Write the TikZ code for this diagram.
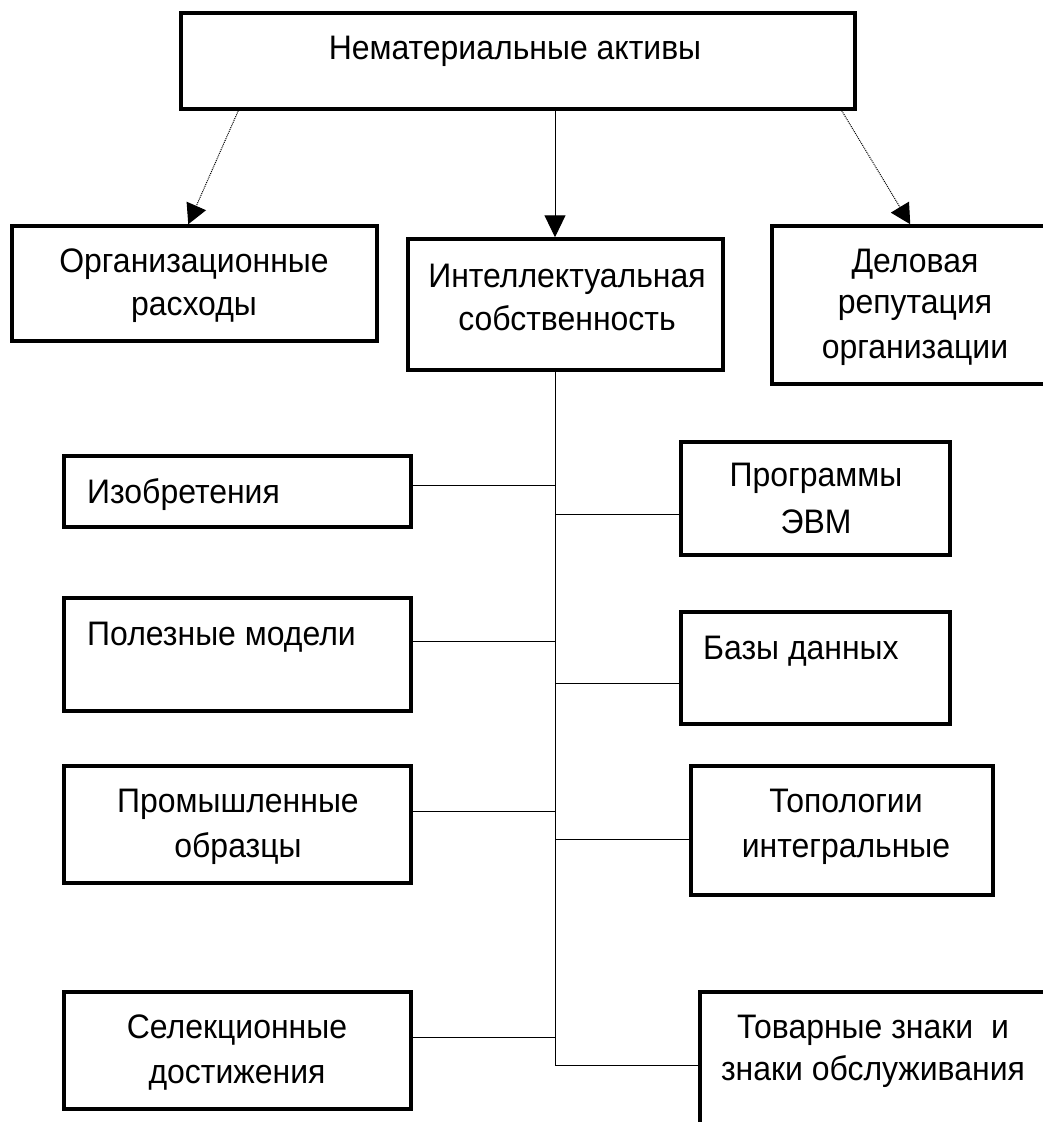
\documentclass[tikz,border=0pt]{standalone}
\usepackage{fontspec}
\setmainfont{Liberation Sans}[FakeStretch=0.94]
\usetikzlibrary{arrows.meta,calc}
\begin{document}
\begin{tikzpicture}[x=1pt,y=-1pt,
  box/.style={draw,line width=3.5pt,rectangle,inner sep=0pt},
  lbl/.style={inner sep=0pt,anchor=base,font=\fontsize{34}{40}\selectfont},
  lbll/.style={inner sep=0pt,anchor=base west,font=\fontsize{34}{40}\selectfont},
  conn/.style={line width=1pt},
  dotarrow/.style={line width=1pt,densely dotted,-{Triangle[length=20pt,width=21pt]}},
  solarrow/.style={line width=1pt,-{Triangle[length=22pt,width=21pt]}}]
\useasboundingbox (0,0) rectangle (1043,1122);
\clip (0,0) rectangle (1043,1122);
% boxes
\node[box,minimum width=674pt,minimum height=96pt] (top) at (518,61) {};
\node[box,minimum width=365pt,minimum height=115pt] (org) at (194.5,283.5) {};
\node[box,minimum width=315pt,minimum height=131pt] (ip) at (565.5,304.5) {};
\node[box,minimum width=288pt,minimum height=158pt] (del) at (916,305) {};
\node[box,minimum width=347pt,minimum height=71pt] (izo) at (237.5,491.5) {};
\node[box,minimum width=269pt,minimum height=113pt] (prog) at (815.5,498.5) {};
\node[box,minimum width=347pt,minimum height=113pt] (pol) at (237.5,654.5) {};
\node[box,minimum width=269pt,minimum height=112pt] (baz) at (815.5,668) {};
\node[box,minimum width=347pt,minimum height=117pt] (prom) at (237.5,824.5) {};
\node[box,minimum width=302pt,minimum height=129pt] (topo) at (842,830.5) {};
\node[box,minimum width=347pt,minimum height=117pt] (sel) at (237.5,1050.5) {};
\node[box,minimum width=370pt,minimum height=158pt] (tov) at (885,1071) {};
% texts
\node[lbl] (t0) at (515,59) {Нематериальные активы};
\node[lbl] (t1a) at (194,272) {Организационные};
\node[lbl] (t1b) at (194,315) {расходы};
\node[lbl] (t2a) at (567,287) {Интеллектуальная};
\node[lbl] (t2b) at (567,330) {собственность};
\node[lbl] (t3a) at (915,272) {Деловая};
\node[lbl] (t3b) at (915,313) {репутация};
\node[lbl] (t3c) at (915,358) {организации};
\node[lbll] (t4) at (87,503) {Изобретения};
\node[lbl] (t5a) at (816,486) {Программы};
\node[lbl] (t5b) at (816,533) {ЭВМ};
\node[lbll] (t6) at (87,645) {Полезные модели};
\node[lbll] (t7) at (703,659) {Базы данных};
\node[lbl] (t8a) at (238,812) {Промышленные};
\node[lbl] (t8b) at (238,857) {образцы};
\node[lbl] (t9a) at (846,812) {Топологии};
\node[lbl] (t9b) at (846,857) {интегральные};
\node[lbl] (t10a) at (237,1038) {Селекционные};
\node[lbl] (t10b) at (237,1083) {достижения};
\node[lbl] (t11a) at (873,1038) {Товарные знаки\ \ и};
\node[lbl] (t11b) at (873,1080) {знаки обслуживания};
% arrows
\draw[dotarrow] ([xshift=59pt]top.south west) -- ([xshift=178pt]org.north west);
\draw[solarrow] ([xshift=37pt]top.south) -- ([xshift=-10.5pt]ip.north);
\draw[dotarrow] ([xshift=-15pt]top.south east) -- ([xshift=140pt]del.north west);
% bus
\coordinate (busend) at (555,1065);
\draw[conn] ([xshift=-10.5pt]ip.south) -- (busend);
\coordinate (b1) at (555,485);
\coordinate (b2) at (555,514);
\coordinate (b3) at (555,641);
\coordinate (b4) at (555,683);
\coordinate (b5) at (555,811);
\coordinate (b6) at (555,839);
\coordinate (b7) at (555,1037);
\draw[conn] (b1) -- (b1 -| izo.east);
\draw[conn] (b2) -- (b2 -| prog.west);
\draw[conn] (b3) -- (b3 -| pol.east);
\draw[conn] (b4) -- (b4 -| baz.west);
\draw[conn] (b5) -- (b5 -| prom.east);
\draw[conn] (b6) -- (b6 -| topo.west);
\draw[conn] (b7) -- (b7 -| sel.east);
\draw[conn] (busend) -- (busend -| tov.west);
\end{tikzpicture}
\end{document}
